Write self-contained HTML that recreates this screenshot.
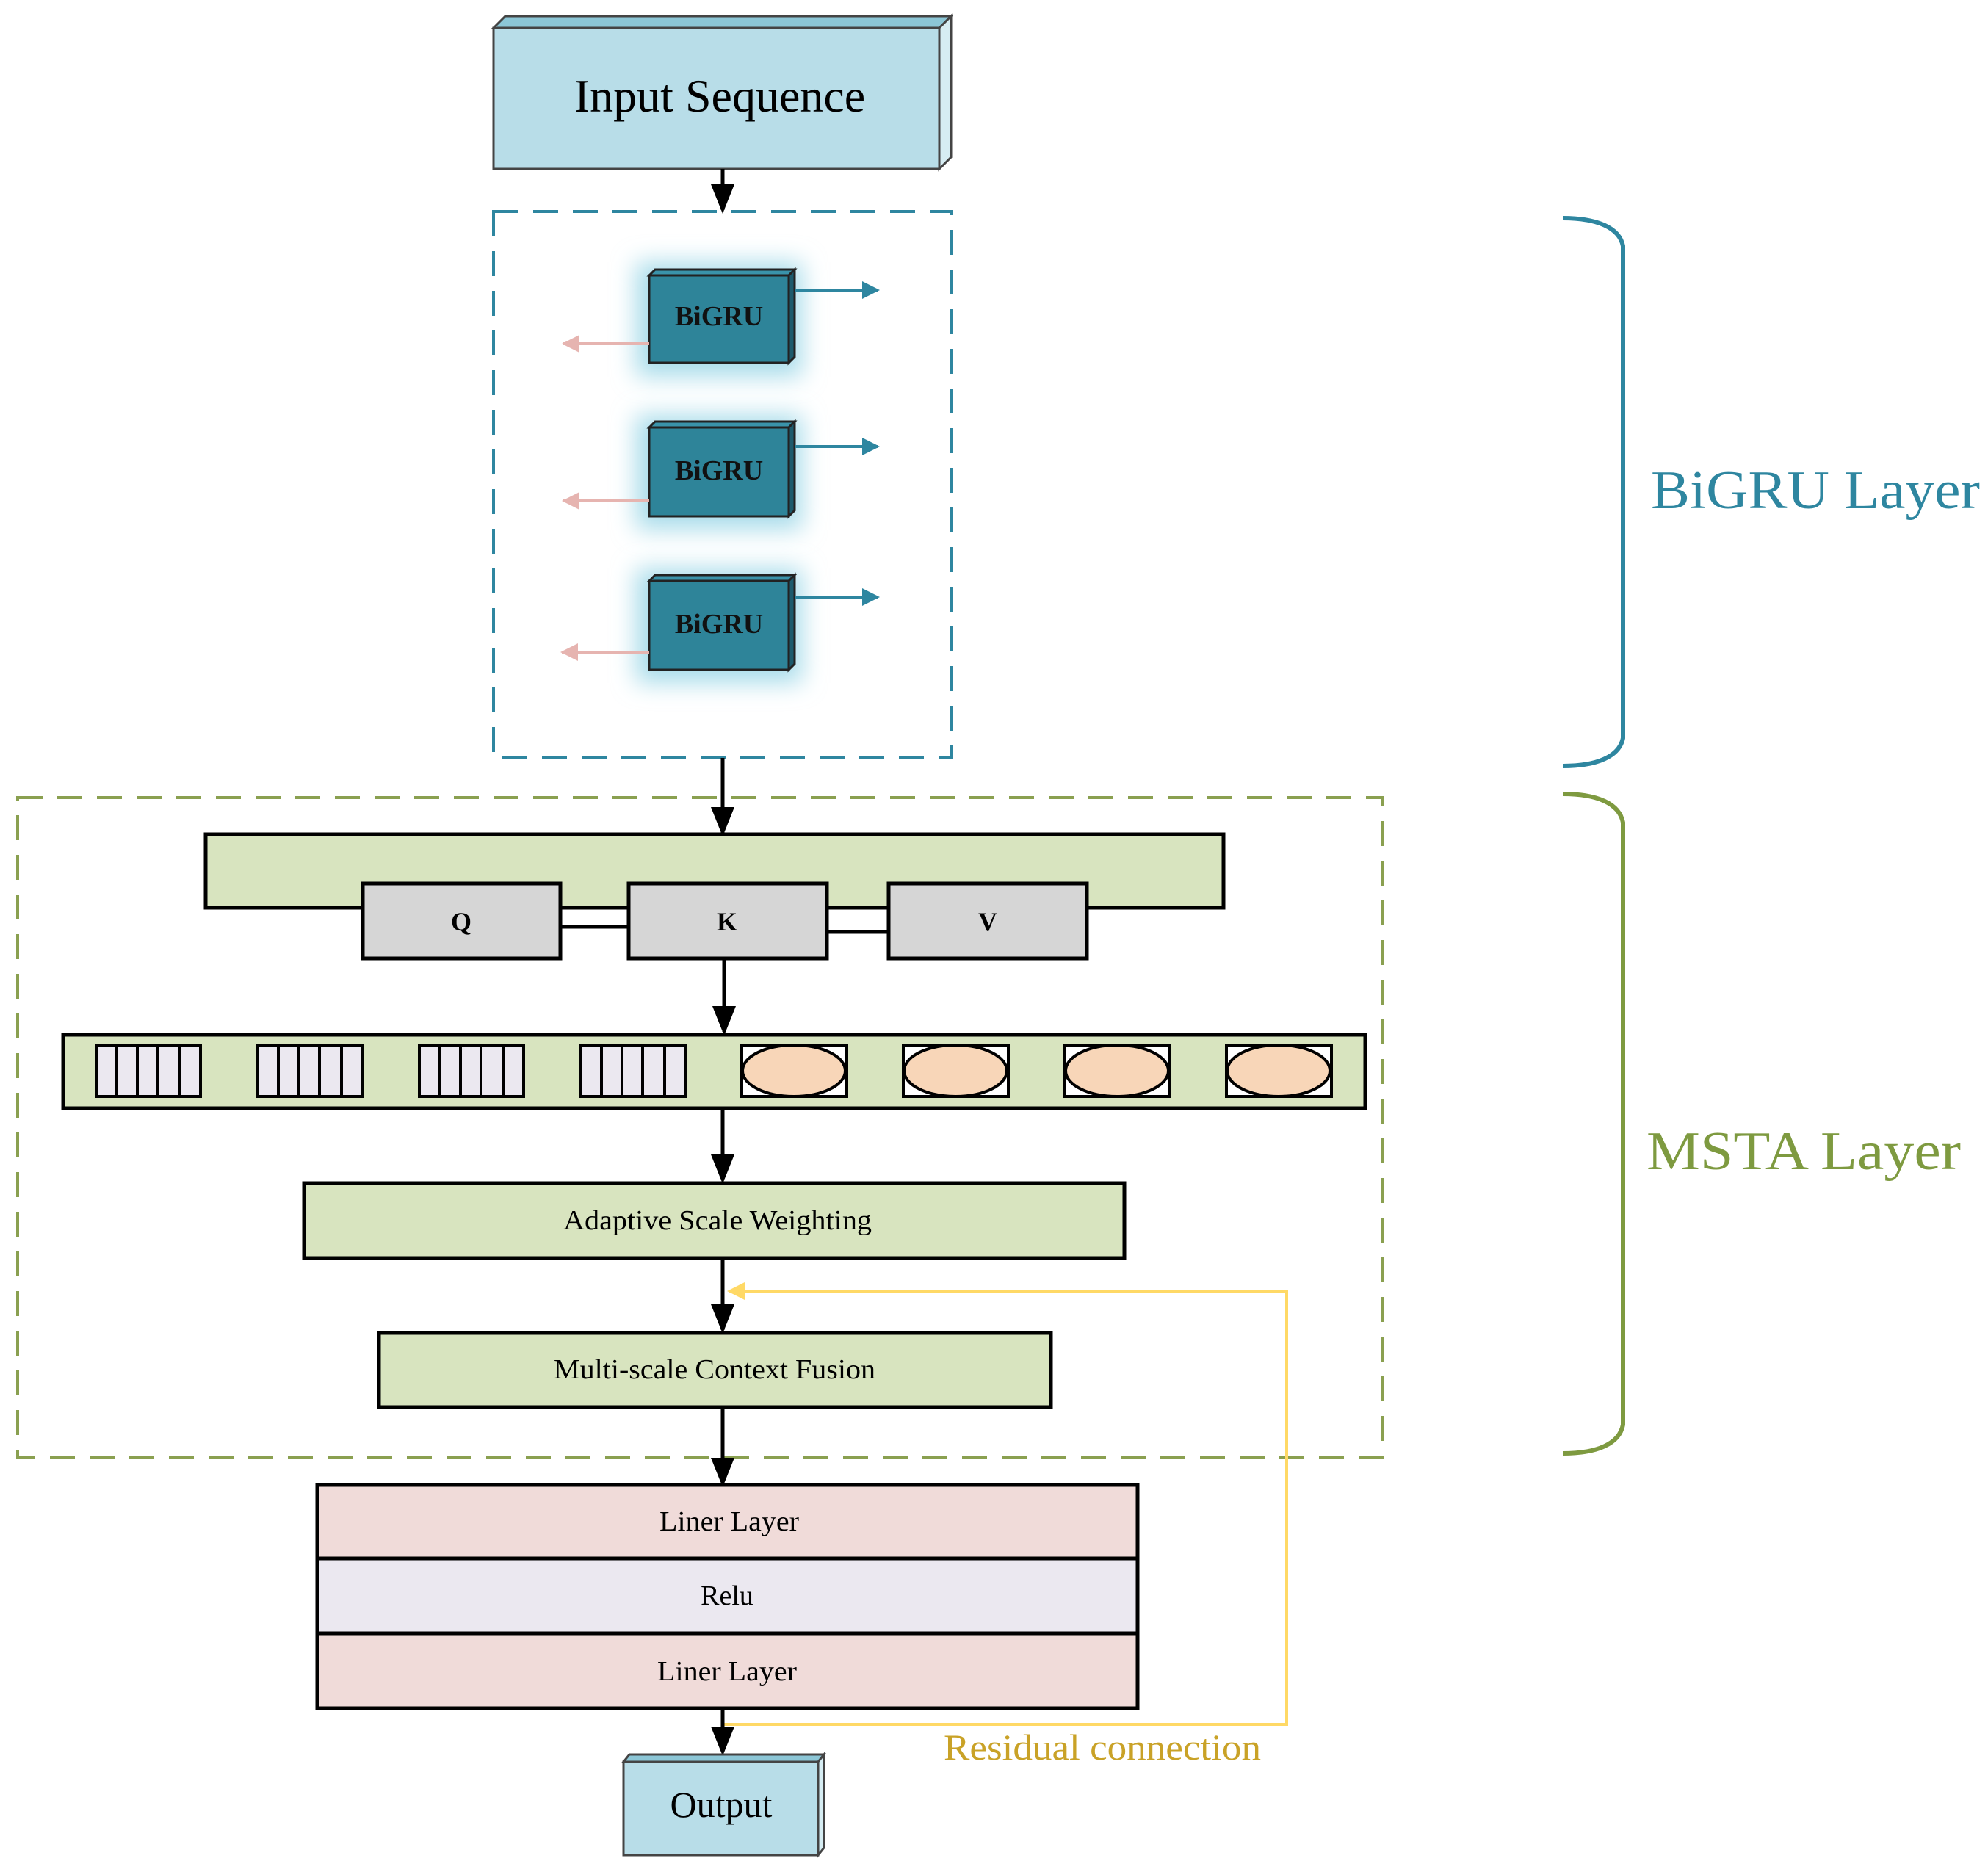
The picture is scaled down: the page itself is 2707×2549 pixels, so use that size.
<!DOCTYPE html>
<html><head><meta charset="utf-8"><style>html,body{margin:0;padding:0;background:#fff}svg{display:block}</style></head>
<body>
<svg width="2707" height="2549" viewBox="0 0 2707 2549" xmlns="http://www.w3.org/2000/svg" font-family="Liberation Serif, serif">
<defs>
<marker id="ab" markerWidth="8" markerHeight="8" refX="7" refY="4" orient="auto" markerUnits="strokeWidth"><path d="M0,0.8 L8,4 L0,7.2 Z" fill="#000"/></marker>
<marker id="at" markerWidth="6" markerHeight="6" refX="5.5" refY="3" orient="auto" markerUnits="strokeWidth"><path d="M0,0 L6,3 L0,6 Z" fill="#2e86a0"/></marker>
<marker id="ap" markerWidth="6" markerHeight="6" refX="5.5" refY="3" orient="auto" markerUnits="strokeWidth"><path d="M0,0 L6,3 L0,6 Z" fill="#e6b4b0"/></marker>
<marker id="ay" markerWidth="6" markerHeight="6" refX="5.5" refY="3" orient="auto" markerUnits="strokeWidth"><path d="M0,0 L6,3 L0,6 Z" fill="#ffd966"/></marker>
<filter id="glow" x="-50%" y="-50%" width="200%" height="200%"><feGaussianBlur stdDeviation="16"/></filter>
</defs>

<polygon points="672,38 688,22 1295,22 1279,38" fill="#8cc6d6" stroke="#444" stroke-width="3"/>
<polygon points="1279,38 1295,22 1295,214 1279,230" fill="#d6edf3" stroke="#444" stroke-width="3"/>
<rect x="672" y="38" width="607" height="192" fill="#b8dde8" stroke="#444" stroke-width="3"/>
<text x="980" y="152" font-size="64" text-anchor="middle">Input Sequence</text>
<line x1="984" y1="230" x2="984" y2="286" stroke="#000" stroke-width="5" marker-end="url(#ab)"/>

<rect x="672" y="288" width="623" height="744" fill="none" stroke="#2e86a0" stroke-width="4" stroke-dasharray="34,20"/>

<rect x="866" y="357" width="226" height="156" fill="#a8dcea" filter="url(#glow)"/>
<rect x="866" y="565" width="226" height="156" fill="#a8dcea" filter="url(#glow)"/>
<rect x="866" y="774" width="226" height="156" fill="#a8dcea" filter="url(#glow)"/>

<g stroke="#222" stroke-width="3">
<polygon points="884,375 892,367 1082,367 1074,375" fill="#3a93aa"/>
<polygon points="1074,375 1082,367 1082,486 1074,494" fill="#1d5a6c"/>
<rect x="884" y="375" width="190" height="119" fill="#2e8499"/>
<polygon points="884,582 892,574 1082,574 1074,582" fill="#3a93aa"/>
<polygon points="1074,582 1082,574 1082,695 1074,703" fill="#1d5a6c"/>
<rect x="884" y="582" width="190" height="121" fill="#2e8499"/>
<polygon points="884,791 892,783 1082,783 1074,791" fill="#3a93aa"/>
<polygon points="1074,791 1082,783 1082,904 1074,912" fill="#1d5a6c"/>
<rect x="884" y="791" width="190" height="121" fill="#2e8499"/>
</g>
<g font-size="38" font-weight="bold" text-anchor="middle" fill="#111">
<text x="979" y="443">BiGRU</text>
<text x="979" y="653">BiGRU</text>
<text x="979" y="862">BiGRU</text>
</g>
<g stroke="#2e86a0" stroke-width="4">
<line x1="1082" y1="395" x2="1196" y2="395" marker-end="url(#at)"/>
<line x1="1082" y1="608" x2="1196" y2="608" marker-end="url(#at)"/>
<line x1="1082" y1="813" x2="1196" y2="813" marker-end="url(#at)"/>
</g>
<g stroke="#e6b4b0" stroke-width="4">
<line x1="884" y1="468" x2="767" y2="468" marker-end="url(#ap)"/>
<line x1="884" y1="682" x2="767" y2="682" marker-end="url(#ap)"/>
<line x1="884" y1="888" x2="765" y2="888" marker-end="url(#ap)"/>
</g>
<line x1="984" y1="1032" x2="984" y2="1134" stroke="#000" stroke-width="5" marker-end="url(#ab)"/>

<rect x="24" y="1086" width="1858" height="898" fill="none" stroke="#8aa050" stroke-width="4" stroke-dasharray="34,20"/>

<rect x="280" y="1136" width="1386" height="100" fill="#d8e4bf" stroke="#000" stroke-width="5"/>
<line x1="763" y1="1262" x2="856" y2="1262" stroke="#000" stroke-width="5"/>
<line x1="1126" y1="1269" x2="1210" y2="1269" stroke="#000" stroke-width="5"/>
<g fill="#d6d6d6" stroke="#000" stroke-width="5">
<rect x="494" y="1203" width="269" height="102"/>
<rect x="856" y="1203" width="270" height="102"/>
<rect x="1210" y="1203" width="270" height="102"/>
</g>
<g font-size="36" font-weight="bold" text-anchor="middle">
<text x="628" y="1267">Q</text>
<text x="990" y="1267">K</text>
<text x="1345" y="1267">V</text>
</g>
<line x1="986" y1="1305" x2="986" y2="1405" stroke="#000" stroke-width="5" marker-end="url(#ab)"/>

<rect x="86" y="1409" width="1773" height="100" fill="#d8e4bf" stroke="#000" stroke-width="5"/>
<g stroke="#000" stroke-width="4">
<g fill="#ebe8f0">
<rect x="131" y="1423" width="142" height="70"/>
<rect x="351" y="1423" width="142" height="70"/>
<rect x="571" y="1423" width="142" height="70"/>
<rect x="791" y="1423" width="142" height="70"/>
</g>
<path d="M159,1423v70M187,1423v70M215,1423v70M245,1423v70 M379,1423v70M407,1423v70M435,1423v70M465,1423v70 M599,1423v70M627,1423v70M655,1423v70M685,1423v70 M819,1423v70M847,1423v70M875,1423v70M905,1423v70"/>
<g fill="#fff">
<rect x="1010" y="1423" width="143" height="70"/>
<rect x="1230" y="1423" width="143" height="70"/>
<rect x="1450" y="1423" width="143" height="70"/>
<rect x="1670" y="1423" width="143" height="70"/>
</g>
<g fill="#f8d6b8">
<ellipse cx="1081" cy="1458" rx="70" ry="35"/>
<ellipse cx="1301" cy="1458" rx="70" ry="35"/>
<ellipse cx="1521" cy="1458" rx="70" ry="35"/>
<ellipse cx="1741" cy="1458" rx="70" ry="35"/>
</g>
</g>
<line x1="984" y1="1509" x2="984" y2="1607" stroke="#000" stroke-width="5" marker-end="url(#ab)"/>

<rect x="414" y="1611" width="1117" height="102" fill="#d8e4bf" stroke="#000" stroke-width="5"/>
<text x="977" y="1674" font-size="38" text-anchor="middle" textLength="420" lengthAdjust="spacingAndGlyphs">Adaptive Scale Weighting</text>
<line x1="984" y1="1713" x2="984" y2="1811" stroke="#000" stroke-width="5" marker-end="url(#ab)"/>

<rect x="516" y="1815" width="915" height="101" fill="#d8e4bf" stroke="#000" stroke-width="5"/>
<text x="973" y="1877" font-size="38" text-anchor="middle" textLength="438" lengthAdjust="spacingAndGlyphs">Multi-scale Context Fusion</text>
<line x1="984" y1="1916" x2="984" y2="2020" stroke="#000" stroke-width="5" marker-end="url(#ab)"/>

<rect x="432" y="2022" width="1117" height="100" fill="#f0dbd9" stroke="#000" stroke-width="5"/>
<rect x="432" y="2122" width="1117" height="102" fill="#ebe8f0" stroke="#000" stroke-width="5"/>
<rect x="432" y="2224" width="1117" height="102" fill="#f0dbd9" stroke="#000" stroke-width="5"/>
<g font-size="38" text-anchor="middle">
<text x="993" y="2084" textLength="190" lengthAdjust="spacingAndGlyphs">Liner Layer</text>
<text x="990" y="2185">Relu</text>
<text x="990" y="2288" textLength="190" lengthAdjust="spacingAndGlyphs">Liner Layer</text>
</g>

<polyline points="984,2348 1752,2348 1752,1758 992,1758" fill="none" stroke="#ffd966" stroke-width="4" marker-end="url(#ay)"/>
<line x1="984" y1="2326" x2="984" y2="2386" stroke="#000" stroke-width="5" marker-end="url(#ab)"/>
<text x="1285" y="2396" font-size="50" fill="#c9a227" textLength="432" lengthAdjust="spacingAndGlyphs">Residual connection</text>

<polygon points="849,2399 857,2389 1122,2389 1114,2399" fill="#8cc6d6" stroke="#444" stroke-width="3"/>
<polygon points="1114,2399 1122,2389 1122,2516 1114,2526" fill="#d6edf3" stroke="#444" stroke-width="3"/>
<rect x="849" y="2399" width="265" height="127" fill="#b8dde8" stroke="#444" stroke-width="3"/>
<text x="982" y="2474" font-size="50" text-anchor="middle">Output</text>

<path d="M2128,297 C2175,297 2205,310 2210,335 L2210,1005 C2205,1030 2175,1043 2128,1043" fill="none" stroke="#2e86a0" stroke-width="6"/>
<path d="M2128,1081 C2175,1081 2205,1094 2210,1120 L2210,1940 C2205,1966 2175,1979 2128,1979" fill="none" stroke="#7e9a40" stroke-width="6"/>
<text x="2248" y="692" font-size="74" fill="#2e86a0" textLength="448" lengthAdjust="spacingAndGlyphs">BiGRU Layer</text>
<text x="2242" y="1592" font-size="74" fill="#7e9a40" textLength="428" lengthAdjust="spacingAndGlyphs">MSTA Layer</text>
</svg>
</body></html>
